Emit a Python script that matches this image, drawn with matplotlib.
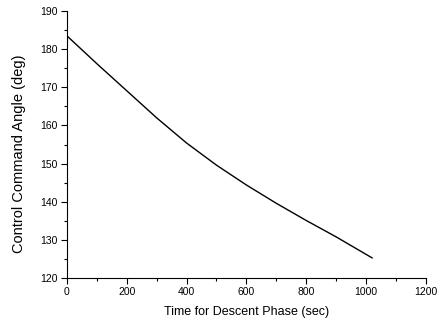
import numpy as np
import matplotlib
matplotlib.use("Agg")
import matplotlib.pyplot as plt
from matplotlib.ticker import MultipleLocator

plt.rcParams['font.family'] = ['Liberation Sans', 'DejaVu Sans']

# Valores
tempo = [0, 100, 200, 300, 400, 500, 600, 700, 800, 900, 1020]
angulo = [183.5, 176.2, 169.1, 162.0, 155.4, 149.6, 144.4, 139.6, 135.1, 130.8, 125.3]

fig = plt.figure(figsize=(4.4, 3.23), dpi=100)
ax = fig.add_axes([0.152, 0.139, 0.816, 0.827])

ax.plot(tempo, angulo, color='black', linewidth=1.0)

ax.set_xlim(0, 1200)
ax.set_ylim(120, 190)
ax.xaxis.set_major_locator(MultipleLocator(200))
ax.xaxis.set_minor_locator(MultipleLocator(100))
ax.yaxis.set_major_locator(MultipleLocator(10))
ax.yaxis.set_minor_locator(MultipleLocator(5))

ax.spines['top'].set_visible(False)
ax.spines['right'].set_visible(False)
ax.tick_params(which='major', direction='out', length=4, width=0.8, labelsize=7.5, pad=2.5)
ax.tick_params(which='minor', direction='out', length=2, width=0.8)

ax.set_xlabel("Time for Descent Phase (sec)", fontsize=9)
ax.set_ylabel("Control Command Angle (deg)", fontsize=10.5)
ax.xaxis.set_label_coords(0.5, -0.105)
ax.yaxis.set_label_coords(-0.115, 0.466)

fig.savefig("out.png", dpi=100)
